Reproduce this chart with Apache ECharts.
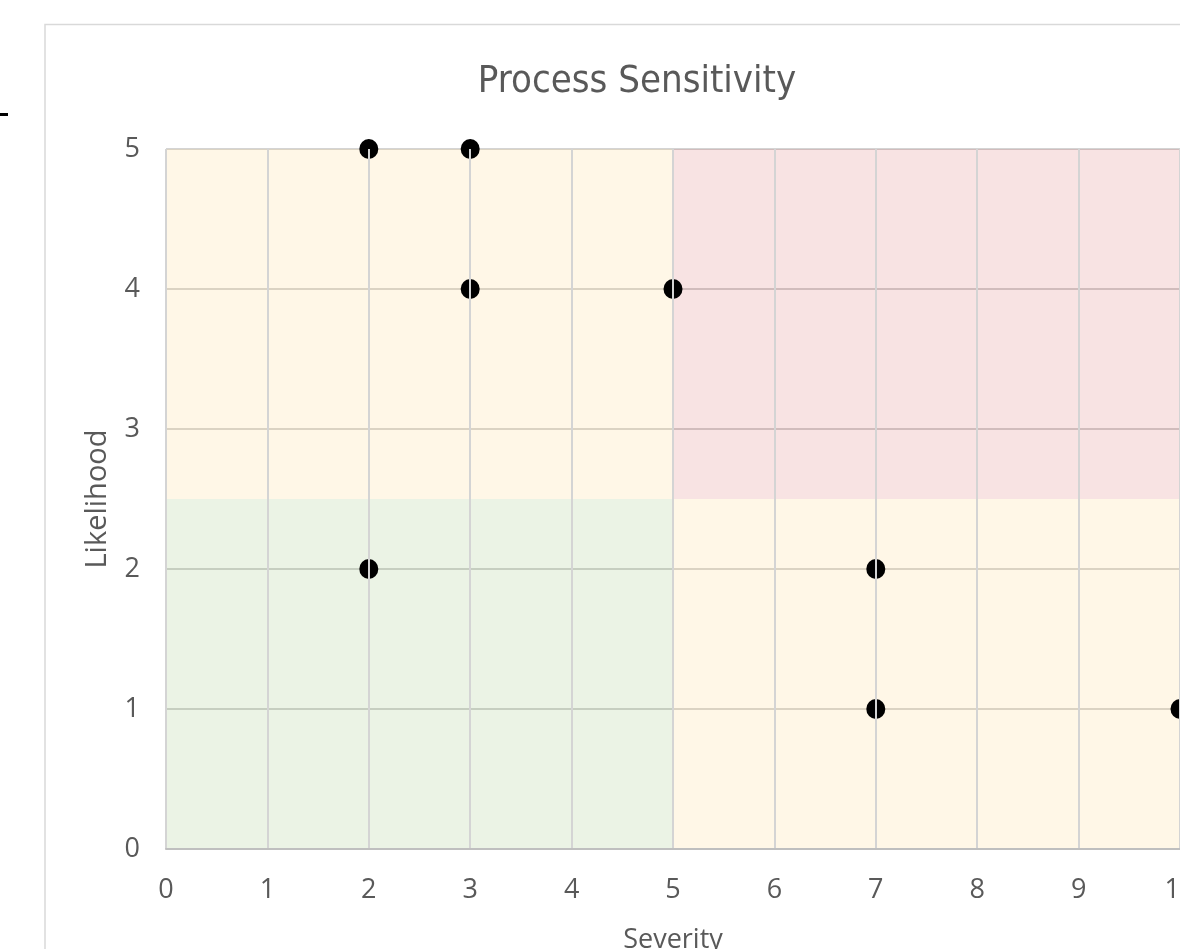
<!DOCTYPE html>
<html>
<head>
<meta charset="utf-8">
<script src="https://cdn.jsdelivr.net/npm/echarts@6/dist/echarts.min.js"></script>
<style>
html,body{margin:0;padding:0;background:#fff;overflow:hidden;}
#c{position:absolute;left:0;top:0;width:1300px;height:1000px;}
</style>
</head>
<body>
<div id="c"></div>
<script>
const severity = [2, 3, 3, 5, 2, 7, 7, 10];
const likelihood = [5, 5, 4, 4, 2, 2, 1, 1];
const xTicks = [0, 1, 2, 3, 4, 5, 6, 7, 8, 9, 10];
const yTicks = [0, 1, 2, 3, 4, 5];
const zones = [
  {x0: 0, x1: 5, y0: 2.5, y1: 5, color: 'rgba(255,206,109,0.165)'},
  {x0: 5, x1: 10, y0: 2.5, y1: 5, color: 'rgba(192,0,0,0.11)'},
  {x0: 0, x1: 5, y0: 0, y1: 2.5, color: 'rgba(112,173,71,0.14)'},
  {x0: 5, x1: 10, y0: 0, y1: 2.5, color: 'rgba(255,206,109,0.165)'}
];
const font = '"Open Sans", "Noto Sans", sans-serif';
const chart = echarts.init(document.getElementById('c'), null, {renderer: 'canvas'});
chart.setOption({
  animation: false,
  backgroundColor: '#fff',
  title: {
    text: 'Process Sensitivity',
    left: 632, top: 58, textAlign: 'center',
    textStyle: {fontFamily: '"DejaVu Sans Condensed", "Open Sans", sans-serif', fontWeight: 'normal', fontSize: 38, color: '#595959'}
  },
  graphic: [
    {type: 'rect', shape: {x: 45, y: 24.5, width: 1400, height: 1200}, style: {fill: 'none', stroke: '#d9d9d9', lineWidth: 1.5}, z: -10},
    {type: 'line', shape: {x1: 0, y1: 114.5, x2: 8, y2: 114.5}, style: {stroke: '#000', lineWidth: 3}}
  ],
  grid: {left: 166, top: 149, width: 1014, height: 700, containLabel: false},
  xAxis: {
    type: 'value', min: 0, max: 10, interval: 1, z: 5,
    name: 'Severity', nameLocation: 'middle', nameGap: 78,
    nameTextStyle: {fontFamily: font, fontSize: 27, color: '#595959'},
    axisLine: {show: true, lineStyle: {color: '#bfbfbf', width: 2}},
    axisTick: {show: false},
    axisLabel: {fontFamily: font, fontSize: 27, color: '#595959', margin: 28},
    splitLine: {show: true, lineStyle: {color: '#d4d4d4', width: 2}}
  },
  yAxis: {
    type: 'value', min: 0, max: 5, interval: 1,
    name: 'Likelihood', nameLocation: 'middle', nameGap: 54,
    nameTextStyle: {fontFamily: font, fontSize: 29, color: '#595959'},
    axisLine: {show: false},
    axisTick: {show: false},
    axisLabel: {fontFamily: font, fontSize: 27, color: '#595959', margin: 26},
    splitLine: {show: true, lineStyle: {color: '#d4d4d4', width: 2}}
  },
  series: [
    {
      type: 'scatter', z: 1,
      data: severity.map((s, i) => [s, likelihood[i]]),
      symbol: 'circle', symbolSize: [19, 20],
      itemStyle: {color: '#000', opacity: 1}
    },
    {
      type: 'scatter', z: 3, data: [], silent: true,
      markArea: {
        silent: true,
        data: zones.map(z => [
          {xAxis: z.x0, yAxis: z.y0, itemStyle: {color: z.color, opacity: 1}},
          {xAxis: z.x1, yAxis: z.y1}
        ])
      }
    }
  ]
});
</script>
</body>
</html>
